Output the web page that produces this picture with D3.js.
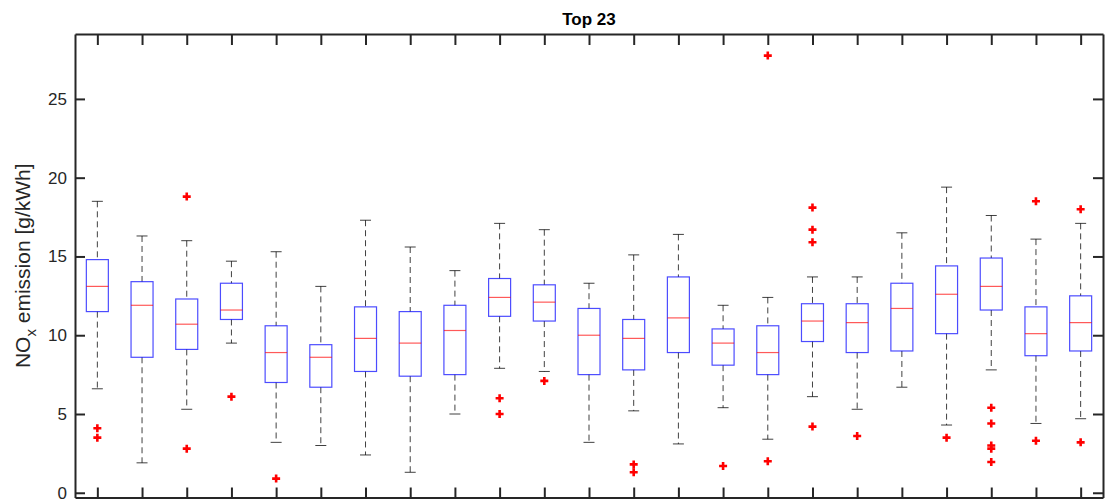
<!DOCTYPE html>
<html>
<head>
<meta charset="utf-8">
<script src="https://cdn.jsdelivr.net/npm/d3@7"></script>
<style>
  body { margin: 0; background: #fff; }
  text { font-family: "Liberation Sans", Arial, sans-serif; }
</style>
</head>
<body>
<div id="chart"></div>
<script>
// box data (g/kWh), one entry per box
var boxes = d3.range(1, 24);
var whiskerHi = [18.5, 16.3, 16.0, 14.7, 15.3, 13.1, 17.3, 15.6, 14.1, 17.1, 16.7, 13.3, 15.1, 16.4, 11.9, 12.4, 13.7, 13.7, 16.5, 19.4, 17.6, 16.1, 17.1];
var q3 = [14.8, 13.4, 12.3, 13.3, 10.6, 9.4, 11.8, 11.5, 11.9, 13.6, 13.2, 11.7, 11.0, 13.7, 10.4, 10.6, 12.0, 12.0, 13.3, 14.4, 14.9, 11.8, 12.5];
var medians = [13.1, 11.9, 10.7, 11.6, 8.9, 8.6, 9.8, 9.5, 10.3, 12.4, 12.1, 10.0, 9.8, 11.1, 9.5, 8.9, 10.9, 10.8, 11.7, 12.6, 13.1, 10.1, 10.8];
var q1 = [11.5, 8.6, 9.1, 11.0, 7.0, 6.7, 7.7, 7.4, 7.5, 11.2, 10.9, 7.5, 7.8, 8.9, 8.1, 7.5, 9.6, 8.9, 9.0, 10.1, 11.6, 8.7, 9.0];
var whiskerLo = [6.6, 1.9, 5.3, 9.5, 3.2, 3.0, 2.4, 1.3, 5.0, 7.9, 7.7, 3.2, 5.2, 3.1, 5.4, 3.4, 6.1, 5.3, 6.7, 4.3, 7.8, 4.4, 4.7];
var outliers = [
  [4.1, 3.5], [], [18.8, 2.8], [6.1], [0.9], [], [], [], [], [6.0, 5.0],
  [7.1], [], [1.8, 1.3], [], [1.7], [27.75, 2.0], [18.1, 16.7, 15.9, 4.2], [3.6], [],
  [3.5], [5.4, 4.4, 3.0, 2.8, 1.95], [18.5, 3.3], [18.0, 3.2]
];
var yTicks = [0, 5, 10, 15, 20, 25];

var svgWidth = 1108;
var svgHeight = 499;
// plot frame (window.top is reserved, so use a margin object)
var frame = { left: 75, right: 1103, top: 34, bottom: 497.5 };
var axisColor = "#262626";

var svg = d3.select("#chart")
  .append("svg")
  .attr("width", svgWidth)
  .attr("height", svgHeight);

var x = d3.scaleLinear().domain([0.5, 23.5]).range([frame.left, frame.right]);
var y = d3.scaleLinear().domain([-0.3, 29.12]).range([frame.bottom, frame.top]);

var boxHalf = 11;
var capHalf = 5.5;

var g = svg.append("g");

// whiskers (dashed)
g.selectAll(".whisk-hi").data(boxes).enter().append("line")
  .attr("x1", d => x(d)).attr("x2", d => x(d))
  .attr("y1", (d, i) => y(whiskerHi[i])).attr("y2", (d, i) => y(q3[i]))
  .attr("stroke", "#000").attr("stroke-opacity", 0.75).attr("stroke-width", 1)
  .attr("stroke-dasharray", "6,4");
g.selectAll(".whisk-lo").data(boxes).enter().append("line")
  .attr("x1", d => x(d)).attr("x2", d => x(d))
  .attr("y1", (d, i) => y(q1[i])).attr("y2", (d, i) => y(whiskerLo[i]))
  .attr("stroke", "#000").attr("stroke-opacity", 0.75).attr("stroke-width", 1)
  .attr("stroke-dasharray", "6,4");

// caps
[whiskerHi, whiskerLo].forEach(arr => {
  g.selectAll(null).data(boxes).enter().append("line")
    .attr("x1", d => x(d) - capHalf).attr("x2", d => x(d) + capHalf)
    .attr("y1", (d, i) => y(arr[i])).attr("y2", (d, i) => y(arr[i]))
    .attr("stroke", "#000").attr("stroke-opacity", 0.75).attr("stroke-width", 1);
});

// boxes
g.selectAll(".box").data(boxes).enter().append("rect")
  .attr("x", d => x(d) - boxHalf)
  .attr("width", boxHalf * 2)
  .attr("y", (d, i) => y(q3[i]))
  .attr("height", (d, i) => y(q1[i]) - y(q3[i]))
  .attr("fill", "none")
  .attr("stroke", "#0000ff").attr("stroke-opacity", 0.7).attr("stroke-width", 1.2);

// medians
g.selectAll(".median").data(boxes).enter().append("line")
  .attr("x1", d => x(d) - boxHalf).attr("x2", d => x(d) + boxHalf)
  .attr("y1", (d, i) => y(medians[i])).attr("y2", (d, i) => y(medians[i]))
  .attr("stroke", "#ff0000").attr("stroke-opacity", 0.65).attr("stroke-width", 1.2);

// outliers as red plus signs
var outPts = [];
outliers.forEach((vals, i) => vals.forEach(v => outPts.push({ box: boxes[i], v: v })));
g.selectAll(".outlier").data(outPts).enter().append("path")
  .attr("d", d => {
    var cx = x(d.box), cy = y(d.v), s = 4;
    return `M${cx - s},${cy}H${cx + s}M${cx},${cy - s}V${cy + s}`;
  })
  .attr("stroke", "#ff0000").attr("stroke-width", 2.6).attr("fill", "none");

// axes with inward ticks
var yLeft = d3.axisLeft(y).tickValues(yTicks).tickSizeInner(-10).tickSizeOuter(0).tickPadding(8);
var yRight = d3.axisRight(y).tickValues(yTicks).tickSizeInner(-10).tickSizeOuter(0).tickFormat("");
var xTop = d3.axisTop(x).tickValues(boxes).tickSizeInner(-11).tickSizeOuter(0).tickFormat("");
var xBottom = d3.axisBottom(x).tickValues(boxes).tickSizeInner(-10).tickSizeOuter(0).tickFormat("");

function styleAxis(sel) {
  sel.selectAll("path, line").attr("stroke", axisColor).attr("stroke-width", 2);
  sel.selectAll("text").attr("fill", axisColor).attr("font-size", "17px")
    .attr("font-family", "'Liberation Sans', Arial, sans-serif");
}

svg.append("g").attr("transform", `translate(${frame.left},0)`).call(yLeft).call(styleAxis);
svg.append("g").attr("transform", `translate(${frame.right},0)`).call(yRight).call(styleAxis);
svg.append("g").attr("transform", `translate(0,${frame.top})`).call(xTop).call(styleAxis);
svg.append("g").attr("transform", `translate(0,${frame.bottom})`).call(xBottom).call(styleAxis);

// title
svg.append("text")
  .attr("x", (frame.left + frame.right) / 2).attr("y", 25)
  .attr("text-anchor", "middle")
  .attr("font-size", "17px").attr("font-weight", "bold")
  .attr("fill", "#000")
  .text("Top 23");

// y label with subscript x
var ylab = svg.append("text")
  .attr("transform", `translate(30,${(frame.top + frame.bottom) / 2}) rotate(-90)`)
  .attr("text-anchor", "middle")
  .attr("font-size", "21px")
  .attr("fill", axisColor);
ylab.append("tspan").text("NO");
ylab.append("tspan").attr("font-size", "15px").attr("dy", 6).text("x");
ylab.append("tspan").attr("dy", -6).text(" emission [g/kWh]");
</script>
</body>
</html>
